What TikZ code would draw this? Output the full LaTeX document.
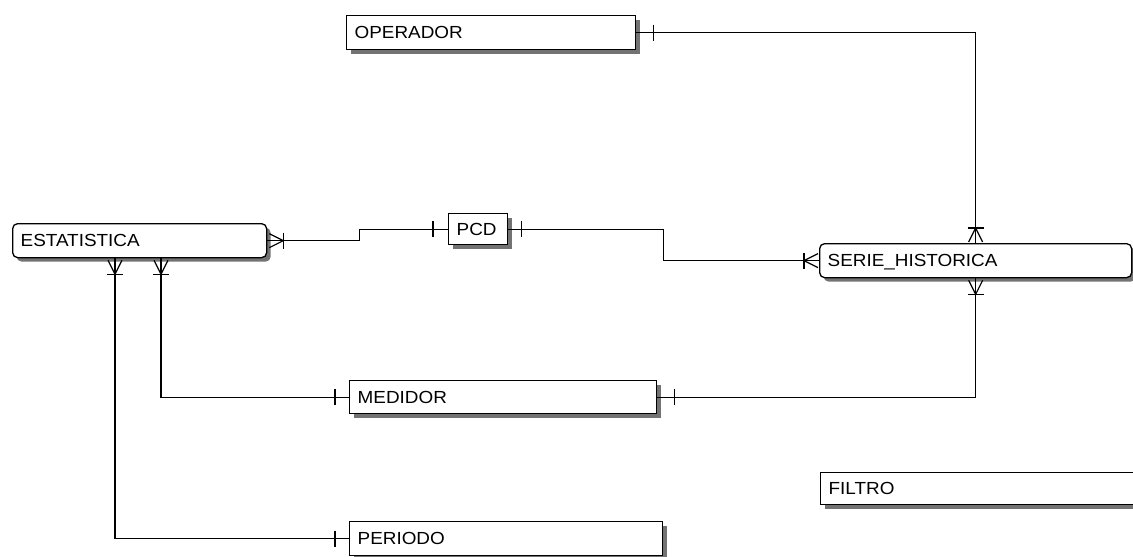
\documentclass[tikz,border=0pt]{standalone}
\usepackage{fontspec}
\newfontfamily\erfont[FakeStretch=1.08]{Liberation Sans}
\usetikzlibrary{calc,shadows}

\begin{document}
\begin{tikzpicture}[x=1pt, y=-1pt, line width=1.2pt,
  ent/.style={draw, fill=white, line width=1.3pt, anchor=north west, inner xsep=8pt, inner ysep=0pt,
    minimum height=34pt, text width=#1, text height=12.5pt, text depth=0pt, align=left,
    font=\erfont\fontsize{17.5}{19}\selectfont,
    drop shadow={shadow xshift=4pt, shadow yshift=-4pt, fill=black!55, opacity=1}},
  rent/.style={ent=#1, rounded corners=5pt},
  one/.pic={\draw (0,-8) -- (0,8);},
  many/.pic={\draw (0,-8) -- (0,8); \draw (-14,-7) -- (0,0) -- (-14,7);}]
\useasboundingbox (0,0) rectangle (1133,557);
\clip (0,0) rectangle (1133,557);

% entities
\node[ent=273pt] (operador) at (346,15) {OPERADOR};
\node[rent=238pt] (estatistica) at (12,223) {ESTATISTICA};
\node[ent=43pt, minimum height=31pt] (pcd) at (448,213) {PCD};
\node[rent=296pt] (serie) at (819,243) {SERIE\_HISTORICA};
\node[ent=291pt, minimum height=33pt] (medidor) at (349,380) {MEDIDOR};
\node[ent=314pt, minimum height=32pt] (filtro) at (820,472) {FILTRO};
\node[ent=297pt] (periodo) at (349,521) {PERIODO};

% relationships
\draw (operador.east) -| (serie.north);
\draw (estatistica.east) -- ($(estatistica.east)+(92,0)$) |- (pcd.west);
\draw (pcd.east) -- ($(pcd.east)+(155,0)$) |- (serie.west);
\draw (medidor.east) -| (serie.south);
\draw ($(estatistica.south west)+(103,0)$) |- (periodo.west);
\draw ($(estatistica.south west)+(149,0)$) |- (medidor.west);

% cardinality marks
\path (estatistica.east) ++(16,0) pic {many};
\path (pcd.west) ++(-15,0) pic {one};
\path (pcd.east) ++(13,0) pic {one};
\path (serie.west) ++(-15,0) pic[rotate=180] {many};
\path (serie.north) ++(0,-15) pic[rotate=90] {many};
\path (serie.south) ++(0,16) pic[rotate=-90] {many};
\path (operador.east) ++(17,0) pic {one};
\path (medidor.east) ++(17,0) pic {one};
\path (medidor.west) ++(-14,0) pic {one};
\path (periodo.west) ++(-14,0) pic {one};
\path ($(estatistica.south west)+(103,16)$) pic[rotate=-90] {many};
\path ($(estatistica.south west)+(149,16)$) pic[rotate=-90] {many};
\end{tikzpicture}
\end{document}
